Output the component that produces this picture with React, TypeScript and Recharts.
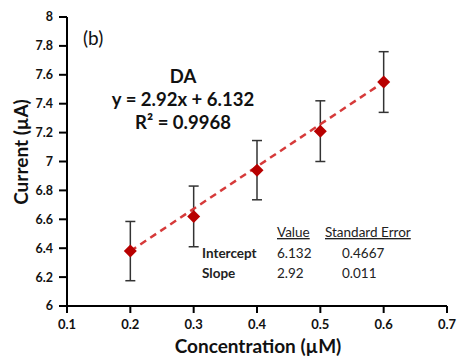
import {
  ScatterChart,
  Scatter,
  XAxis,
  YAxis,
  ErrorBar,
  Customized,
} from "recharts";

const concentration = [0.2, 0.3, 0.4, 0.5, 0.6];
const current = [6.38, 6.62, 6.94, 7.21, 7.55];
const errors = [0.205, 0.21, 0.205, 0.21, 0.21];

const trendX = [0.2, 0.6];
const trendY = [6.38, 7.55];

const xTicks = [0.1, 0.2, 0.3, 0.4, 0.5, 0.6, 0.7];
const yTicks = [6, 6.2, 6.4, 6.6, 6.8, 7, 7.2, 7.4, 7.6, 7.8, 8];

const points = concentration.map((x, i) => ({ x, y: current[i], err: errors[i] }));
const trend = trendX.map((x, i) => ({ x, y: trendY[i] }));

const font = "Lato, 'Open Sans', sans-serif";

function Diamond(props: any) {
  const { cx, cy } = props;
  const r = 6.5;
  return (
    <polygon
      points={`${cx},${cy - r} ${cx + r},${cy} ${cx},${cy + r} ${cx - r},${cy}`}
      fill="#b80000"
    />
  );
}

function Annotations() {
  return (
    <g fontFamily={font} fill="#111">
      <text x={83} y={45} fontSize={19}>(b)</text>
      <text x={183} y={83} fontSize={18.5} fontWeight={700} textAnchor="middle">DA</text>
      <text x={183} y={106} fontSize={18.5} fontWeight={700} textAnchor="middle">
        y = 2.92x + 6.132
      </text>
      <text x={183} y={129} fontSize={18.5} fontWeight={700} textAnchor="middle">
        R² = 0.9968
      </text>

      <g fontSize={13.5} fill="#222">
        <text x={277} y={237} textDecoration="underline">Value</text>
        <text x={325} y={237} textDecoration="underline">Standard Error</text>
        <text x={202} y={258} fontWeight={700}>Intercept</text>
        <text x={277} y={258}>6.132</text>
        <text x={342} y={258}>0.4667</text>
        <text x={202} y={278} fontWeight={700}>Slope</text>
        <text x={277} y={278}>2.92</text>
        <text x={342} y={278}>0.011</text>
      </g>

      <text x={258} y={353} fontSize={19} fontWeight={700} textAnchor="middle">
        Concentration (µM)
      </text>
      <text
        x={28}
        y={152}
        fontSize={19}
        fontWeight={700}
        textAnchor="middle"
        transform="rotate(-90, 28, 152)"
      >
        Current (µA)
      </text>
    </g>
  );
}

export default function App() {
  return (
    <div style={{ position: "absolute", left: 0, top: 0, background: "#fff" }}>
      <ScatterChart
        width={458}
        height={358}
        margin={{ top: 17, right: 11, left: 27, bottom: 7 }}
        style={{ fontFamily: font }}
      >
        <XAxis
          type="number"
          dataKey="x"
          domain={[0.1, 0.7]}
          ticks={xTicks}
          height={45}
          axisLine={{ stroke: "#000", strokeWidth: 2 }}
          tickLine={{ stroke: "#000", strokeWidth: 2 }}
          tickSize={7}
          tickMargin={7}
          tick={{ fill: "#111", fontSize: 13, fontWeight: 700 }}
          allowDataOverflow
        />
        <YAxis
          type="number"
          dataKey="y"
          domain={[6, 8]}
          ticks={yTicks}
          width={40}
          axisLine={{ stroke: "#000", strokeWidth: 2 }}
          tickLine={{ stroke: "#000", strokeWidth: 2 }}
          tickSize={8}
          tickMargin={6}
          tick={{ fill: "#111", fontSize: 12.5, fontWeight: 700 }}
          allowDataOverflow
        />
        <Scatter
          data={trend}
          line={{ stroke: "#d63a3a", strokeWidth: 2.5, strokeDasharray: "7 5" }}
          shape={() => <g />}
          isAnimationActive={false}
        />
        <Scatter data={points} shape={Diamond} isAnimationActive={false}>
          <ErrorBar
            dataKey="err"
            direction="y"
            width={5}
            stroke="#333"
            strokeWidth={1.5}
            isAnimationActive={false}
          />
        </Scatter>
        <Customized component={Annotations} />
      </ScatterChart>
    </div>
  );
}
